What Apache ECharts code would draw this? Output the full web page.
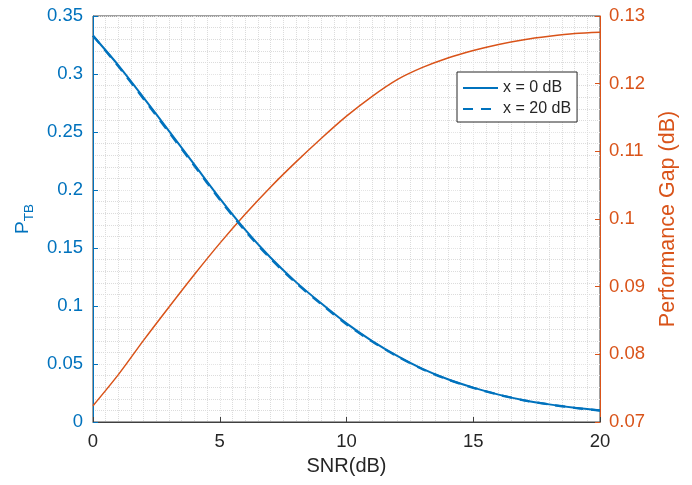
<!DOCTYPE html>
<html>
<head>
<meta charset="utf-8">
<script src="https://cdn.jsdelivr.net/npm/echarts@6/dist/echarts.min.js"></script>
<style>html,body{margin:0;padding:0;background:#fff}#c{width:692px;height:485px}</style>
</head>
<body>
<div id="c"></div>
<script>
const snr = [0,1,2,3,4,5,6,7,8,9,10,11,12,13,14,15,16,17,18,19,20];
const ptb0dB = [0.333,0.3075,0.2795,0.2507,0.2218,0.1928,0.1658,0.1418,0.1208,0.1023,0.0850,0.0700,0.0570,0.0458,0.0368,0.0296,0.0236,0.0188,0.0152,0.0123,0.0100];
const ptb20dB = [0.333,0.3066,0.2785,0.2497,0.2208,0.1918,0.1648,0.1409,0.1200,0.1016,0.0843,0.0695,0.0566,0.0455,0.0366,0.0295,0.0235,0.0187,0.0151,0.0122,0.0099];
const perfGap = [0.0724,0.0770,0.0821,0.0870,0.0918,0.0964,0.1007,0.1047,0.1084,0.1119,0.1152,0.1181,0.1206,0.1224,0.1238,0.1249,0.1258,0.1265,0.1270,0.1274,0.1276];
const leftTicks = [0,0.05,0.1,0.15,0.2,0.25,0.3,0.35];
const rightTicks = [0.07,0.08,0.09,0.1,0.11,0.12,0.13];

const BLUE = '#0072BD', ORANGE = '#D95319', AX = '#404040';
const FONT = 'Liberation Sans';
const pairs = (ys) => snr.map((x, i) => [x, ys[i]]);
const fmt = v => String(parseFloat(v.toFixed(2)));

const chart = echarts.init(document.getElementById('c'), null, {renderer: 'canvas'});
chart.setOption({
  animation: false,
  backgroundColor: '#fff',
  textStyle: {fontFamily: FONT},
  grid: {left: 93, right: 92, top: 16, bottom: 63, show: true, borderColor: AX, borderWidth: 1, backgroundColor: '#fff'},
  legend: {
    data: ['x = 0 dB', 'x = 20 dB'],
    left: 457, top: 72, orient: 'vertical',
    itemWidth: 35, itemHeight: 14, itemGap: 5,
    padding: [8, 6, 5, 5],
    borderColor: '#262626', borderWidth: 1, backgroundColor: '#fff',
    itemStyle: {opacity: 0},
    textStyle: {fontSize: 16, color: '#262626', fontFamily: FONT}
  },
  xAxis: {
    type: 'value', min: 0, max: 20, interval: 5,
    name: 'SNR(dB)', nameLocation: 'middle', nameGap: 34,
    nameTextStyle: {fontSize: 20, color: '#262626'},
    axisLine: {show: true, lineStyle: {color: AX, width: 1}},
    axisTick: {show: true, inside: true, length: 5, lineStyle: {color: AX}},
    axisLabel: {fontSize: 18.5, color: '#262626', margin: 10},
    splitLine: {show: true, lineStyle: {color: '#e4e4e4', width: 1, type: 'dotted'}},
    minorTick: {show: false, splitNumber: 10},
    minorSplitLine: {show: true, lineStyle: {color: '#dcdcdc', width: 1, type: 'dotted'}}
  },
  yAxis: [
    {
      type: 'value', min: 0, max: 0.35, interval: 0.05, position: 'left',
      name: '{p|P}{s|TB}', nameLocation: 'middle', nameRotate: 90, nameGap: 52,
      nameTextStyle: {color: BLUE, rich: {p: {fontSize: 19, color: BLUE, fontFamily: FONT}, s: {fontSize: 13.5, color: BLUE, fontFamily: FONT, padding: [12, 0, 0, 0]}}},
      axisLine: {show: true, lineStyle: {color: BLUE, width: 1}},
      axisTick: {show: true, inside: true, length: 5, lineStyle: {color: BLUE}},
      axisLabel: {fontSize: 18.5, color: BLUE, margin: 10, formatter: fmt},
      splitLine: {show: true, lineStyle: {color: '#e4e4e4', width: 1, type: 'dotted'}},
      minorTick: {show: false, splitNumber: 5},
      minorSplitLine: {show: true, lineStyle: {color: '#dcdcdc', width: 1, type: 'dotted'}}
    },
    {
      type: 'value', min: 0.07, max: 0.13, interval: 0.01, position: 'right',
      name: 'Performance Gap (dB)', nameLocation: 'middle', nameRotate: 90, nameGap: 57,
      nameTextStyle: {fontSize: 21.5, color: ORANGE},
      axisLine: {show: true, lineStyle: {color: ORANGE, width: 1}},
      axisTick: {show: true, inside: true, length: 5, lineStyle: {color: ORANGE}},
      axisLabel: {fontSize: 18.5, color: ORANGE, margin: 9, formatter: fmt},
      splitLine: {show: false}
    }
  ],
  series: [
    {
      name: 'x = 0 dB', type: 'line', yAxisIndex: 0, data: pairs(ptb0dB),
      symbol: 'none', smooth: 0.3, lineStyle: {color: BLUE, width: 2}, itemStyle: {color: BLUE}, z: 3
    },
    {
      name: 'x = 20 dB', type: 'line', yAxisIndex: 0, data: pairs(ptb20dB),
      symbol: 'none', smooth: 0.3, lineStyle: {color: BLUE, width: 2.3, type: [10, 8]}, itemStyle: {color: BLUE}, z: 4
    },
    {
      name: 'Performance Gap', type: 'line', yAxisIndex: 1, data: pairs(perfGap),
      symbol: 'none', smooth: 0.3, lineStyle: {color: ORANGE, width: 1.5}, itemStyle: {color: ORANGE}, z: 2
    }
  ]
});
</script>
</body>
</html>
